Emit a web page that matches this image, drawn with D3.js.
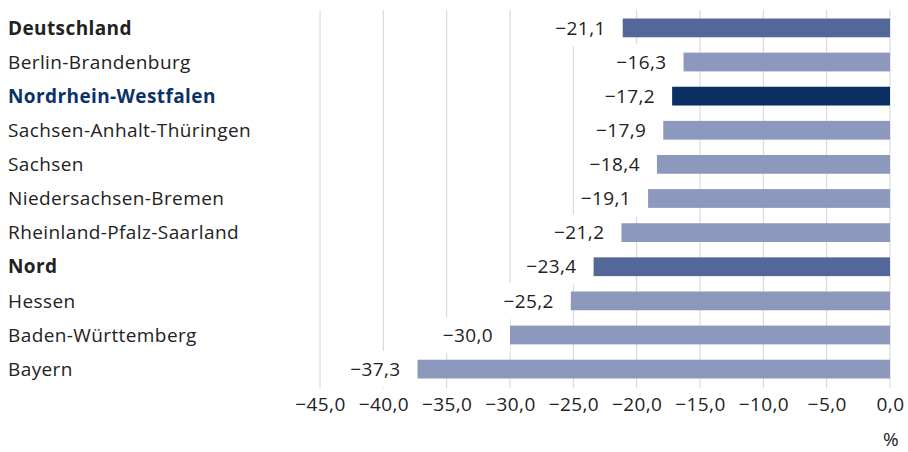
<!DOCTYPE html>
<html>
<head>
<meta charset="utf-8">
<script src="https://cdn.jsdelivr.net/npm/d3@7"></script>
<style>
  html, body { margin: 0; padding: 0; background: #fff; }
  svg { display: block; font-family: "Open Sans", Roboto, sans-serif; letter-spacing: 0.4px; }
</style>
</head>
<body>
<svg id="chart" width="908" height="452"></svg>
<script>
// Regions and their change in percent
const regions = [
  "Deutschland", "Berlin-Brandenburg", "Nordrhein-Westfalen",
  "Sachsen-Anhalt-Thüringen", "Sachsen", "Niedersachsen-Bremen",
  "Rheinland-Pfalz-Saarland", "Nord", "Hessen", "Baden-Württemberg", "Bayern"
];
const values = [-21.1, -16.3, -17.2, -17.9, -18.4, -19.1, -21.2, -23.4, -25.2, -30.0, -37.3];
// Row type: "total" = aggregate, "focus" = highlighted region, "region" = other
const rowTypes = ["total", "region", "focus", "region", "region", "region", "region", "total", "region", "region", "region"];
const tickValues = [-45, -40, -35, -30, -25, -20, -15, -10, -5, 0];
const unitLabel = "%";

const colors = { total: "#536798", focus: "#0a2f63", region: "#8c99bd" };
const labelColors = { total: "#222222", focus: "#0a3369", region: "#222222" };
const FONT = "'Open Sans', Roboto, sans-serif";
const FS = 19;

const svg = d3.select("#chart");
const fmt = v => d3.format(".1f")(v).replace("-", "\u2212").replace(".", ",");

const x = d3.scaleLinear().domain([-45, 0]).range([320, 890]);
const y = d3.scaleBand().domain(regions).range([11, 386]).paddingInner(0.45).paddingOuter(0.22);

const gridTop = 10, gridBottom = 388;

// Vertical grid lines
svg.append("g").selectAll("line").data(tickValues).join("line")
  .attr("x1", d => x(d)).attr("x2", d => x(d))
  .attr("y1", gridTop).attr("y2", gridBottom)
  .attr("stroke", "#d4d4d4").attr("stroke-width", 1);

// Tick labels
const xAxis = d3.axisBottom(x).tickValues(tickValues).tickSize(0).tickPadding(0).tickFormat(fmt);
const axisG = svg.append("g").attr("transform", `translate(0,${gridBottom})`).call(xAxis);
axisG.select(".domain").remove();
axisG.selectAll("text")
  .attr("dy", null).attr("y", 23)
  .attr("font-size", FS).attr("fill", "#222")
  .attr("font-family", FONT);

// Unit label
svg.append("text")
  .attr("x", 899).attr("y", 446)
  .attr("text-anchor", "end")
  .attr("font-size", FS).attr("fill", "#222")
  .text(unitLabel);

const rows = regions.map((r, i) => ({ region: r, value: values[i], type: rowTypes[i] }));
const cy = d => y(d.region) + y.bandwidth() / 2;

// Value labels with white backing so grid lines stop around them
const valG = svg.append("g");
rows.forEach(d => {
  const g = valG.append("g");
  const bg = g.append("rect").attr("fill", "#fff");
  const t = g.append("text")
    .attr("x", x(d.value) - 17)
    .attr("y", cy(d))
    .attr("dy", "0.35em")
    .attr("text-anchor", "end")
    .attr("font-size", FS).attr("fill", "#222")
    .text(fmt(d.value));
  const w = t.node().getComputedTextLength();
  bg.attr("x", x(d.value) - 17 - w - 6)
    .attr("y", cy(d) - 18)
    .attr("width", w + 6 + 17)
    .attr("height", 36);
});

// Bars
svg.append("g").selectAll("rect").data(rows).join("rect")
  .attr("x", d => x(d.value))
  .attr("y", d => y(d.region))
  .attr("width", d => x(0) - x(d.value))
  .attr("height", y.bandwidth())
  .attr("fill", d => colors[d.type]);

// Category labels
svg.append("g").selectAll("text").data(rows).join("text")
  .attr("x", 8)
  .attr("y", d => cy(d))
  .attr("dy", "0.35em")
  .attr("font-size", FS)
  .attr("font-weight", d => d.type === "region" ? 400 : 700)
  .attr("fill", d => labelColors[d.type])
  .text(d => d.region);
</script>
</body>
</html>
